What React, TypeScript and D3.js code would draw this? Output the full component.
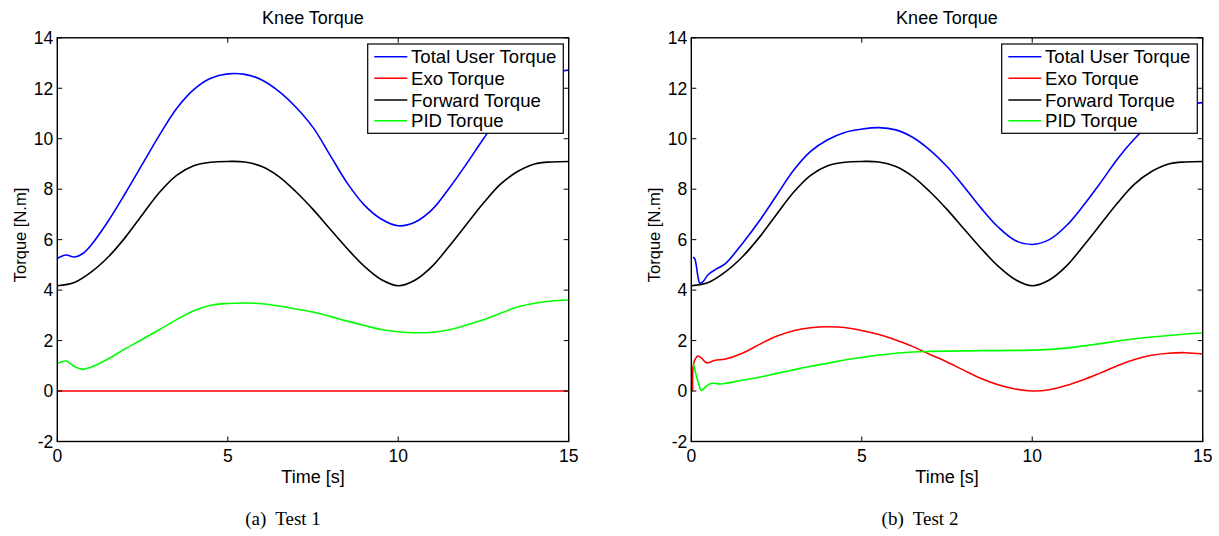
import React from 'react';
import * as d3 from 'd3';

// [time s, torque N.m]
const forwardTorque: [number, number][] = [
  [0, 4.17], [0.5, 4.3], [1, 4.72], [1.5, 5.32], [2, 6.1], [2.5, 7.0], [3, 7.88],
  [3.5, 8.55], [4, 8.93], [4.5, 9.07], [5, 9.1], [5.5, 9.08], [6, 8.9], [6.5, 8.5],
  [7, 7.9], [7.5, 7.2], [8, 6.42], [8.5, 5.65], [9, 4.95], [9.5, 4.42], [10, 4.17],
  [10.5, 4.4], [11, 4.95], [11.5, 5.75], [12, 6.6], [12.5, 7.45], [13, 8.2],
  [13.5, 8.7], [14, 9.0], [14.5, 9.08], [15, 9.1],
];

const test1Total: [number, number][] = [
  [0, 5.25], [0.25, 5.39], [0.5, 5.31], [0.75, 5.45], [1, 5.8], [1.5, 6.75], [2, 7.85],
  [2.5, 9.0], [3, 10.15], [3.5, 11.2], [4, 11.95], [4.5, 12.4], [5, 12.57], [5.5, 12.55],
  [6, 12.33], [6.5, 11.88], [7, 11.25], [7.5, 10.45], [8, 9.35], [8.5, 8.25], [9, 7.38],
  [9.5, 6.82], [10, 6.55], [10.5, 6.7], [11, 7.2], [11.5, 8.05], [12, 9.0], [12.5, 10.0],
  [13, 10.95], [13.5, 11.7], [14, 12.25], [14.5, 12.6], [15, 12.72],
];
const test1Exo: [number, number][] = [[0, 0], [5, 0], [10, 0], [15, 0]];
const test1Pid: [number, number][] = [
  [0, 1.08], [0.25, 1.19], [0.5, 0.97], [0.75, 0.86], [1, 0.95], [1.5, 1.28], [2, 1.68],
  [2.5, 2.05], [3, 2.44], [3.5, 2.83], [4, 3.18], [4.5, 3.4], [5, 3.47], [5.5, 3.49],
  [6, 3.46], [6.5, 3.37], [7, 3.25], [7.5, 3.13], [8, 2.96], [8.5, 2.77], [9, 2.6],
  [9.5, 2.44], [10, 2.35], [10.5, 2.31], [11, 2.33], [11.5, 2.43], [12, 2.62], [12.5, 2.83],
  [13, 3.08], [13.5, 3.33], [14, 3.48], [14.5, 3.57], [15, 3.61],
];

const test2Total: [number, number][] = [
  [0.05, 5.3], [0.1, 5.25], [0.2, 4.5], [0.25, 4.28], [0.35, 4.35], [0.5, 4.62], [0.75, 4.85],
  [1, 5.05], [1.5, 5.85], [2, 6.75], [2.5, 7.75], [3, 8.75], [3.5, 9.5], [4, 9.96],
  [4.5, 10.25], [5, 10.38], [5.5, 10.44], [6, 10.35], [6.5, 10.05], [7, 9.55], [7.5, 8.9],
  [8, 8.1], [8.5, 7.25], [9, 6.5], [9.5, 5.97], [10, 5.81], [10.5, 6.0], [11, 6.55],
  [11.5, 7.35], [12, 8.25], [12.5, 9.2], [13, 10.0], [13.5, 10.65], [14, 11.1],
  [14.5, 11.35], [15, 11.43],
];
const test2Exo: [number, number][] = [
  [0.04, 0], [0.08, 1.15], [0.2, 1.39], [0.3, 1.3], [0.45, 1.12], [0.7, 1.22], [1, 1.27],
  [1.5, 1.5], [2, 1.85], [2.5, 2.17], [3, 2.39], [3.5, 2.51], [4, 2.55], [4.5, 2.52],
  [5, 2.4], [5.5, 2.24], [6, 2.02], [6.5, 1.76], [7, 1.45], [7.5, 1.15], [8, 0.82],
  [8.5, 0.5], [9, 0.25], [9.5, 0.08], [10, 0.0], [10.5, 0.05], [11, 0.22], [11.5, 0.45],
  [12, 0.72], [12.5, 1.0], [13, 1.25], [13.5, 1.42], [14, 1.5], [14.5, 1.52], [15, 1.47],
];
const test2Pid: [number, number][] = [
  [0.06, 1.1], [0.2, 0.35], [0.3, 0.02], [0.42, 0.17], [0.57, 0.3], [0.86, 0.28], [1, 0.3],
  [1.5, 0.43], [2, 0.55], [2.5, 0.7], [3, 0.84], [3.5, 0.98], [4, 1.1], [4.5, 1.23],
  [5, 1.33], [5.5, 1.43], [6, 1.5], [6.5, 1.55], [7, 1.57], [7.5, 1.58], [8, 1.59],
  [8.5, 1.6], [9, 1.6], [9.5, 1.61], [10, 1.62], [10.5, 1.65], [11, 1.7], [11.5, 1.79],
  [12, 1.88], [12.5, 1.98], [13, 2.07], [13.5, 2.14], [14, 2.2], [14.5, 2.26], [15, 2.3],
];

const seriesNames = ['Total User Torque', 'Exo Torque', 'Forward Torque', 'PID Torque'];
const seriesColors = ['#0000ff', '#ff0000', '#000000', '#00ff00'];
const xTicks = [0, 5, 10, 15];
const yTicks = [-2, 0, 2, 4, 6, 8, 10, 12, 14];

const panels = [
  { id: 'a', left: 57.3, right: 568.7, capX: 283, tag: '(a)', caption: 'Test 1',
    series: [test1Total, test1Exo, forwardTorque, test1Pid] },
  { id: 'b', left: 691.3, right: 1202.7, capX: 920, tag: '(b)', caption: 'Test 2',
    series: [test2Total, test2Exo, forwardTorque, test2Pid] },
];

const TOP = 37.8;
const BOTTOM = 441.5;
const FONT = 'Liberation Sans, Arial, Helvetica, sans-serif';

function Panel({ p }: { p: typeof panels[number] }) {
  const x = d3.scaleLinear().domain([0, 15]).range([p.left, p.right]);
  const y = d3.scaleLinear().domain([-2, 14]).range([BOTTOM, TOP]);
  const line = d3.line<[number, number]>()
    .x(d => x(d[0]))
    .y(d => y(d[1]))
    .curve(d3.curveCatmullRom.alpha(0.5));
  const tk = 5;
  const midX = (p.left + p.right) / 2;
  const lgRight = p.right - 5.4;
  const lgLeft = lgRight - 195.6;
  const lgTop = 44;
  const rows = [56.7, 78.3, 100, 120.7];

  return (
    <g>
      <clipPath id={'clip-' + p.id}>
        <rect x={p.left} y={TOP} width={p.right - p.left} height={BOTTOM - TOP} />
      </clipPath>
      <g clipPath={`url(#clip-${p.id})`}>
        {p.series.map((s, i) => (
          <path key={i} d={line(s) || ''} fill="none" stroke={seriesColors[i]} strokeWidth={1.6} />
        ))}
      </g>
      {/* axes box */}
      <rect x={p.left} y={TOP} width={p.right - p.left} height={BOTTOM - TOP}
        fill="none" stroke="#000" strokeWidth={1.4} />
      {xTicks.map(t => (
        <g key={'x' + t}>
          <line x1={x(t)} x2={x(t)} y1={BOTTOM} y2={BOTTOM - tk} stroke="#000" />
          <line x1={x(t)} x2={x(t)} y1={TOP} y2={TOP + tk} stroke="#000" />
          <text x={x(t)} y={462} textAnchor="middle" fontSize={17.5} fontFamily={FONT}>{t}</text>
        </g>
      ))}
      {yTicks.map(t => (
        <g key={'y' + t}>
          <line x1={p.left} x2={p.left + tk} y1={y(t)} y2={y(t)} stroke="#000" />
          <line x1={p.right} x2={p.right - tk} y1={y(t)} y2={y(t)} stroke="#000" />
          <text x={p.left - 4} y={y(t)} dy="0.36em" textAnchor="end" fontSize={17.5} fontFamily={FONT}>{t}</text>
        </g>
      ))}
      <text x={midX} y={24} textAnchor="middle" fontSize={18} fontFamily={FONT}>Knee Torque</text>
      <text x={midX} y={483} textAnchor="middle" fontSize={18} fontFamily={FONT}>Time [s]</text>
      <text transform={`translate(${p.left - 31.5},235) rotate(-90)`} textAnchor="middle"
        fontSize={16.5} fontFamily={FONT}>Torque [N.m]</text>

      {/* legend */}
      <rect x={lgLeft} y={lgTop} width={lgRight - lgLeft} height={133.3 - lgTop}
        fill="#fff" stroke="#000" strokeWidth={1.2} />
      {seriesNames.map((n, i) => (
        <g key={n}>
          <line x1={lgLeft + 6.6} x2={lgLeft + 39.6} y1={rows[i]} y2={rows[i]}
            stroke={seriesColors[i]} strokeWidth={1.6} />
          <text x={lgLeft + 43.3} y={rows[i]} dy="0.36em" fontSize={18.6} fontFamily={FONT}>{n}</text>
        </g>
      ))}

      <text x={p.capX} y={525} textAnchor="middle" fontSize={19}
        fontFamily="Liberation Serif, Times New Roman, serif">
        <tspan>{p.tag}</tspan>
        <tspan dx={9}>{p.caption}</tspan>
      </text>
    </g>
  );
}

export default function App() {
  return (
    <svg width={1219} height={536} style={{ position: 'absolute', left: 0, top: 0, background: '#fff' }}>
      {panels.map(p => <Panel key={p.id} p={p} />)}
    </svg>
  );
}
